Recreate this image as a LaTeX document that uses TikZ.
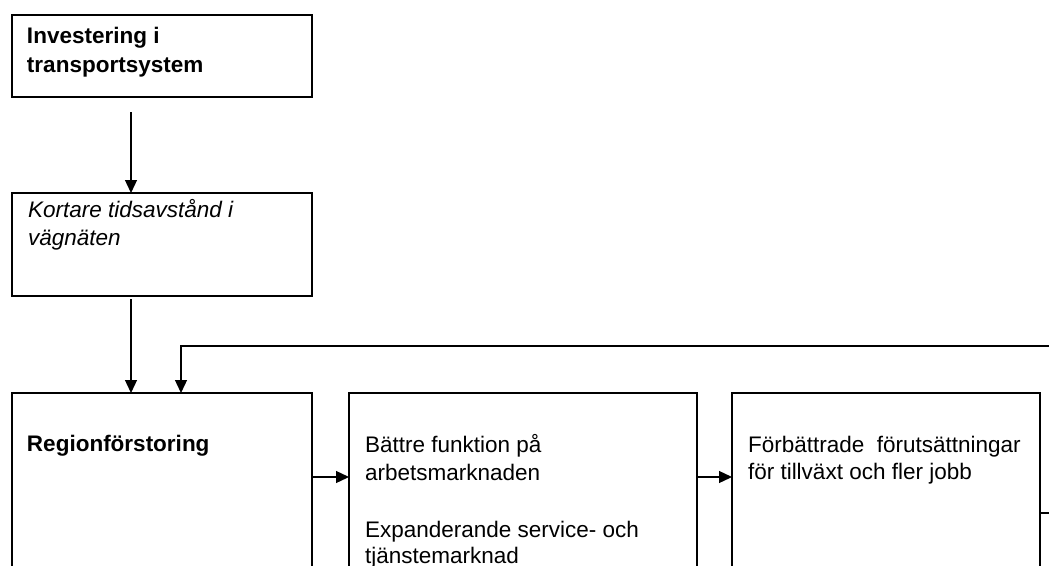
\documentclass[tikz,border=0pt]{standalone}
\usepackage{fontspec}
\setmainfont{Liberation Sans}
\usetikzlibrary{arrows.meta}
\begin{document}
\begin{tikzpicture}[x=1pt,y=-1pt,
  box/.style={draw,line width=1.3pt,inner sep=0pt,outer sep=0pt,anchor=north west},
  txt/.style={inner sep=0pt,outer sep=0pt,anchor=base west,font=\fontsize{22.5}{28.5}\selectfont},
  arr/.style={line width=1.3pt,-{Triangle[length=13pt,width=12pt]}},
  ln/.style={line width=1.3pt}]
\useasboundingbox (0,0) rectangle (1049,565);
\clip (0,0) rectangle (1049,565);
% boxes
\node[box,minimum width=300pt,minimum height=82pt] (b1) at (12,15) {};
\node[box,minimum width=300pt,minimum height=103pt] (b2) at (12,193) {};
\node[box,minimum width=300pt,minimum height=220pt] (b3) at (12,393) {};
\node[box,minimum width=348pt,minimum height=220pt] (b4) at (349,393) {};
\node[box,minimum width=308pt,minimum height=220pt] (b5) at (732,393) {};
% texts
\node[txt,font=\fontsize{22.5}{28.5}\selectfont\bfseries] (t1a) at (27,43) {Investering i};
\node[txt,font=\fontsize{22.5}{28.5}\selectfont\bfseries] (t1b) at (27,72) {transportsystem};
\node[txt,font=\fontsize{22.5}{28.5}\selectfont\itshape] (t2a) at (28,217) {Kortare tidsavstånd i};
\node[txt,font=\fontsize{22.5}{28.5}\selectfont\itshape] (t2b) at (28,245) {vägnäten};
\node[txt,font=\fontsize{22.5}{28.5}\selectfont\bfseries] (t3) at (27,451) {Regionförstoring};
\node[txt] (t4a) at (365,452) {Bättre funktion på};
\node[txt] (t4b) at (365,480) {arbetsmarknaden};
\node[txt] (t4c) at (365,537) {Expanderande service- och};
\node[txt] (t4d) at (365,563) {tjänstemarknad};
\node[txt] (t5a) at (748,452) {Förbättrade~~förutsättningar};
\node[txt] (t5b) at (748,479) {för tillväxt och fler jobb};
% connectors
\coordinate (a1s) at (131,112);
\draw[arr] (a1s) -- (a1s |- b2.north);
\coordinate (a2s) at (131,299);
\draw[arr] (a2s) -- (a2s |- b3.north);
\coordinate (fbR) at (1060,346);
\coordinate (fbC) at (181,346);
\draw[arr] (fbR) -- (fbC) -- (fbC |- b3.north);
\coordinate (r1) at (0,477);
\draw[arr] (b3.east |- r1) -- (b4.west |- r1);
\draw[arr] (b4.east |- r1) -- (b5.west |- r1);
\coordinate (r2) at (1060,513);
\draw[ln] (b5.east |- r2) -- (r2);
\end{tikzpicture}
\end{document}
